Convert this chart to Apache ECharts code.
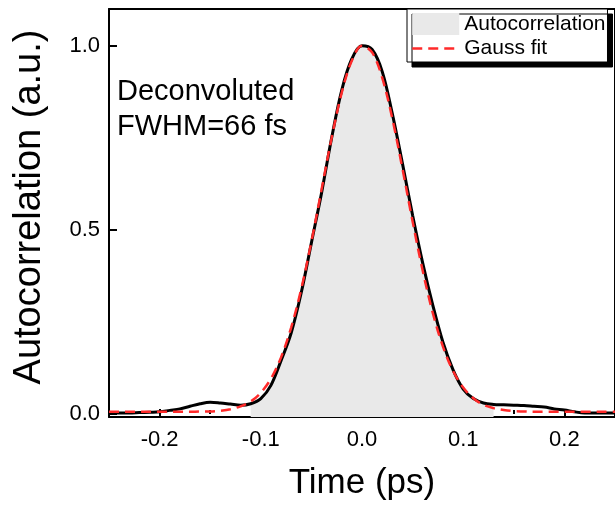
<!DOCTYPE html>
<html>
<head>
<meta charset="utf-8">
<script src="https://cdn.jsdelivr.net/npm/echarts@6/dist/echarts.min.js"></script>
<style>
  html, body { margin: 0; padding: 0; background: #fff; }
  #chart { width: 615px; height: 506px; }
</style>
</head>
<body>
<div id="chart"></div>
<script>
// ---- data ----
const timeValues = [
  -0.25, -0.24, -0.23, -0.22, -0.21, -0.20, -0.19, -0.18, -0.17, -0.16,
  -0.15, -0.14, -0.13, -0.12, -0.11, -0.10, -0.09, -0.08, -0.07, -0.06,
  -0.05, -0.04, -0.03, -0.02, -0.01, 0.00, 0.01, 0.02, 0.03, 0.04,
  0.05, 0.06, 0.07, 0.08, 0.09, 0.10, 0.11, 0.12, 0.13, 0.14,
  0.15, 0.16, 0.17, 0.18, 0.19, 0.20, 0.21, 0.22, 0.23, 0.24, 0.25
];
const autocorrelationValues = [
  0.003, 0.003, 0.003, 0.004, 0.005, 0.006, 0.010, 0.014, 0.021, 0.028,
  0.032, 0.030, 0.027, 0.024, 0.028, 0.042, 0.078, 0.145, 0.220, 0.330,
  0.465, 0.600, 0.750, 0.880, 0.965, 1.000, 0.990, 0.930, 0.815, 0.680,
  0.540, 0.410, 0.295, 0.195, 0.120, 0.068, 0.042, 0.030, 0.026, 0.025,
  0.024, 0.023, 0.021, 0.019, 0.014, 0.011, 0.006, 0.003, 0.003, 0.003, 0.003
];
const gaussFitValues = [
  0.006, 0.006, 0.006, 0.006, 0.006, 0.006, 0.006, 0.006, 0.006, 0.007,
  0.007, 0.009, 0.013, 0.021, 0.034, 0.058, 0.096, 0.154, 0.235, 0.340,
  0.468, 0.609, 0.750, 0.873, 0.960, 1.000, 0.982, 0.913, 0.802, 0.666,
  0.523, 0.389, 0.274, 0.183, 0.117, 0.072, 0.043, 0.025, 0.016, 0.011,
  0.008, 0.007, 0.006, 0.006, 0.006, 0.006, 0.006, 0.006, 0.006, 0.006, 0.006
];
const fillRange = [-0.11, 0.13];
const xTickLabels = [-0.2, -0.1, 0.0, 0.1, 0.2];
const xMinorTicks = [-0.15, -0.05, 0.05, 0.15];
const yTickLabels = [0.0, 0.5, 1.0];
const yMinorTicks = [0.25, 0.75];
const seriesNames = ['Autocorrelation', 'Gauss fit'];
const annotationLines = ['Deconvoluted', 'FWHM=66 fs'];

// ---- build series data ----
const acPairs = timeValues.map((t, i) => [t, autocorrelationValues[i]]);
const fitPairs = timeValues.map((t, i) => [t, gaussFitValues[i]]);
const fillPairs = acPairs.filter(p => p[0] >= fillRange[0] - 1e-9 && p[0] <= fillRange[1] + 1e-9);

const FONT = '"Liberation Sans", Arial, Helvetica, sans-serif';
const fmt = v => Number(v).toFixed(1);

const chart = echarts.init(document.getElementById('chart'), null, { renderer: 'canvas' });

const axisLineStyle = { show: true, onZero: false, lineStyle: { color: '#000', width: 2 } };
const RED = '#ff2a2a';

chart.setOption({
  animation: false,
  backgroundColor: '#fff',
  textStyle: { fontFamily: FONT },
  grid: { left: 109, right: 0, top: 9, bottom: 88, containLabel: false },
  legend: {
    orient: 'vertical',
    left: 407,
    top: 9,
    padding: [4, 2, 3, 4],
    itemWidth: 47,
    itemHeight: 22,
    itemGap: 3,
    backgroundColor: '#fff',
    borderColor: '#000',
    borderWidth: 1,
    borderRadius: 0,
    shadowBlur: 0,
    shadowColor: '#000',
    shadowOffsetX: 5,
    shadowOffsetY: 5,
    textStyle: { fontFamily: FONT, fontSize: 21, color: '#000' },
    data: [
      { name: seriesNames[0], icon: 'rect' },
      {
        name: seriesNames[1],
        itemStyle: { color: 'rgba(0,0,0,0)', borderColor: 'rgba(0,0,0,0)', borderWidth: 0 },
        lineStyle: { color: RED, width: 2.5, type: [10, 6] }
      }
    ]
  },
  xAxis: [
    {
      type: 'value', min: -0.25, max: 0.25, position: 'bottom',
      axisLine: axisLineStyle,
      axisTick: { show: true, inside: true, length: 8, lineStyle: { color: '#000', width: 2 }, customValues: xTickLabels },
      axisLabel: { show: true, customValues: xTickLabels, formatter: fmt, fontSize: 22, color: '#000', margin: 12, fontFamily: FONT },
      splitLine: { show: false },
      name: 'Time (ps)', nameLocation: 'middle', nameGap: 49,
      nameTextStyle: { fontSize: 35, color: '#000', fontFamily: FONT }
    },
    {
      type: 'value', min: -0.25, max: 0.25, position: 'bottom',
      axisLine: { show: false },
      axisTick: { show: true, inside: true, length: 4, lineStyle: { color: '#000', width: 2 }, customValues: xMinorTicks },
      axisLabel: { show: false },
      splitLine: { show: false }
    },
    {
      type: 'value', min: -0.25, max: 0.25, position: 'top',
      axisLine: axisLineStyle,
      axisTick: { show: false }, axisLabel: { show: false }, splitLine: { show: false }
    }
  ],
  yAxis: [
    {
      type: 'value', min: -0.008, max: 1.1, position: 'left',
      axisLine: axisLineStyle,
      axisTick: { show: true, inside: true, length: 8, lineStyle: { color: '#000', width: 2 }, customValues: yTickLabels },
      axisLabel: { show: true, customValues: yTickLabels, formatter: fmt, fontSize: 22, color: '#000', margin: 9, fontFamily: FONT },
      splitLine: { show: false },
      name: 'Autocorrelation (a.u.)', nameLocation: 'middle', nameGap: 60, nameRotate: 90,
      nameTextStyle: { fontSize: 38, color: '#000', fontFamily: FONT, padding: [0, 0, 0, 12] }
    },
    {
      type: 'value', min: -0.008, max: 1.1, position: 'left',
      axisLine: { show: false },
      axisTick: { show: true, inside: true, length: 4, lineStyle: { color: '#000', width: 2 }, customValues: yMinorTicks },
      axisLabel: { show: false },
      splitLine: { show: false }
    },
    {
      type: 'value', min: -0.008, max: 1.1, position: 'right',
      axisLine: axisLineStyle,
      axisTick: { show: false }, axisLabel: { show: false }, splitLine: { show: false }
    }
  ],
  graphic: [
    {
      type: 'text', left: 117, top: 77, z: 100,
      style: { text: annotationLines[0], fontSize: 29, fontFamily: FONT, fill: '#000' }
    },
    {
      type: 'text', left: 117, top: 112, z: 100,
      style: { text: annotationLines[1], fontSize: 29, fontFamily: FONT, fill: '#000' }
    }
  ],
  series: [
    {
      name: seriesNames[0], type: 'line', xAxisIndex: 0, yAxisIndex: 0,
      data: fillPairs, smooth: 0.35, symbol: 'none', showSymbol: false,
      itemStyle: { color: '#e9e9e9' },
      lineStyle: { width: 0, color: '#e9e9e9' },
      areaStyle: { color: '#e9e9e9', opacity: 1, origin: 'start' },
      z: 1, silent: true
    },
    {
      name: 'data', type: 'line', xAxisIndex: 0, yAxisIndex: 0,
      data: acPairs, smooth: 0.35, symbol: 'none', showSymbol: false,
      lineStyle: { color: '#000', width: 3 },
      itemStyle: { color: '#000' },
      z: 3, silent: true
    },
    {
      name: seriesNames[1], type: 'line', xAxisIndex: 0, yAxisIndex: 0,
      data: fitPairs, smooth: 0.35, symbol: 'none', showSymbol: false,
      lineStyle: { color: RED, width: 2.5, type: [10, 6] },
      itemStyle: { color: RED },
      z: 4, silent: true
    }
  ]
});
</script>
</body>
</html>
